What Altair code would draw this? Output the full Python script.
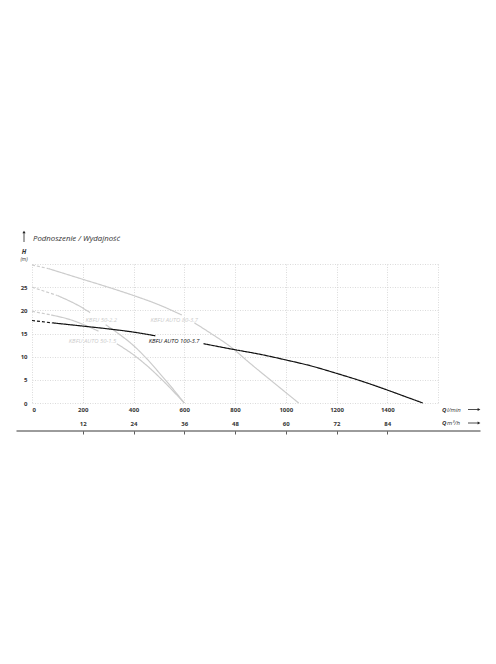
import altair as alt
import pandas as pd

# ---------------- data ----------------
series = ["KBFU AUTO 80-3.7", "KBFU 50-2.2", "KBFU AUTO 50-1.5", "KBFU AUTO 100-3.7"]

# KBFU AUTO 80-3.7  (segments: d = dashed start, a/b = solid parts around the label gap)
q_80 = [0, 65, 65, 200, 300, 400, 500, 590, 640, 700, 795, 850, 950, 1051]
h_80 = [29.8, 29.0, 29.0, 26.7, 25.0, 23.2, 21.2, 19.0, 17.3, 15.2, 11.6, 9.0, 4.5, 0.0]
s_80 = ["d", "d", "a", "a", "a", "a", "a", "a", "b", "b", "b", "b", "b", "b"]

# KBFU 50-2.2
q_22 = [0, 100, 100, 200, 229, 290, 340, 400, 450, 500, 550, 600]
h_22 = [25.0, 23.2, 23.2, 20.5, 19.5, 16.9, 15.0, 12.4, 9.7, 6.6, 3.4, 0.0]
s_22 = ["d", "d", "a", "a", "a", "b", "b", "b", "b", "b", "b", "b"]

# KBFU AUTO 50-1.5
q_15 = [0, 75, 75, 150, 200, 262, 334, 400, 450, 520, 600]
h_15 = [19.8, 19.0, 19.0, 18.0, 17.0, 15.5, 12.8, 10.4, 8.2, 4.6, 0.0]
s_15 = ["d", "d", "a", "a", "a", "a", "b", "b", "b", "b", "b"]

# KBFU AUTO 100-3.7
q_100 = [0, 80, 80, 200, 300, 400, 486, 676, 800, 900, 1000, 1100, 1200, 1300, 1400, 1480, 1540]
h_100 = [17.8, 17.3, 17.3, 16.6, 16.0, 15.3, 14.5, 12.8, 11.5, 10.5, 9.3, 8.0, 6.4, 4.7, 2.8, 1.2, 0.0]
s_100 = ["d", "d", "a", "a", "a", "a", "a", "b", "b", "b", "b", "b", "b", "b", "b", "b", "b"]

# curve labels (left edge position in data units)
label_text = ["KBFU 50-2.2", "KBFU AUTO 50-1.5", "KBFU AUTO 80-3.7", "KBFU AUTO 100-3.7"]
label_q = [211, 145, 467, 460]
label_h = [18.0, 13.3, 18.0, 13.3]
label_series = ["KBFU 50-2.2", "KBFU AUTO 50-1.5", "KBFU AUTO 80-3.7", "KBFU AUTO 100-3.7"]

x_ticks = [0, 200, 400, 600, 800, 1000, 1200, 1400, 1600]
y_ticks = [0, 5, 10, 15, 20, 25, 30]
m3_ticks = [12, 24, 36, 48, 60, 72, 84]

title_text = "Podnoszenie / Wydajność"

# ---------------- tables ----------------
rows = []
for name, qs, hs, ss in [
    (series[0], q_80, h_80, s_80),
    (series[1], q_22, h_22, s_22),
    (series[2], q_15, h_15, s_15),
    (series[3], q_100, h_100, s_100),
]:
    for i, (q, h, s) in enumerate(zip(qs, hs, ss)):
        rows.append({"series": name, "q": q, "h": h, "seg": name + s,
                     "style": "dash" if s == "d" else "solid", "order": i})
df = pd.DataFrame(rows)
labels_df = pd.DataFrame({"t": label_text, "q": label_q, "h": label_h, "series": label_series})
m3_df = pd.DataFrame({"q": [m * 1000 / 60 for m in m3_ticks]})

W, H = 406, 139
FONT = "Open Sans"
xscale = alt.Scale(domain=[0, 1600], nice=False, zero=False)
yscale = alt.Scale(domain=[0, 30], nice=False)
color_scale = alt.Scale(domain=series, range=["#cccccc", "#cccccc", "#cccccc", "#111111"])

x_axis = alt.Axis(values=x_ticks, format="d", title=None, domain=False, ticks=False,
                  labelExpr="datum.value > 1400 ? '' : datum.label",
                  labelPadding=6.5, labelBaseline="middle", labelFont=FONT, labelFontSize=6,
                  labelFontWeight="bold", labelColor="#333333", grid=True,
                  gridDash=[1, 1.5], gridColor="#cccccc", gridWidth=0.7)
y_axis = alt.Axis(values=y_ticks, title=None, domain=False, ticks=False,
                  labelExpr="datum.value >= 30 ? '' : datum.label",
                  labelPadding=5, labelFont=FONT, labelFontSize=6, labelFontWeight="bold",
                  labelColor="#333333", grid=True, gridDash=[1, 1.5], gridColor="#cccccc",
                  gridWidth=0.7)

curves = alt.Chart(df).mark_line(interpolate="monotone").encode(
    x=alt.X("q:Q", scale=xscale, axis=x_axis),
    y=alt.Y("h:Q", scale=yscale, axis=y_axis),
    color=alt.Color("series:N", scale=color_scale, legend=None),
    strokeDash=alt.StrokeDash("style:N", scale=alt.Scale(domain=["solid", "dash"], range=[[1, 0], [3, 2]]), legend=None),
    strokeWidth=alt.StrokeWidth("series:N", scale=alt.Scale(domain=series, range=[1.2, 1.2, 1.2, 1.4]), legend=None),
    detail="seg:N",
    order="order:Q",
)

curve_labels = alt.Chart(labels_df).mark_text(align="left", baseline="middle", font=FONT,
                                              fontSize=5.9, fontStyle="italic").encode(
    x=alt.X("q:Q", scale=xscale, axis=None),
    y=alt.Y("h:Q", scale=yscale, axis=y_axis),
    text="t:N",
    color=alt.Color("series:N", scale=alt.Scale(domain=series, range=["#b8b8b8", "#b8b8b8", "#b8b8b8", "#111111"]), legend=None),
)

m3_axis = alt.Chart(m3_df).mark_point(opacity=0).encode(
    x=alt.X("q:Q", scale=xscale, axis=alt.Axis(
        orient="bottom", offset=28, values=[m * 1000 / 60 for m in m3_ticks],
        labelExpr="round(datum.value * 0.06)", title=None, domain=False, grid=False,
        tickSize=3, tickColor="#333333", tickWidth=0.8, labelPadding=-11, labelBaseline="middle",
        labelFont=FONT, labelFontSize=6, labelFontWeight="bold", labelColor="#333333")),
    y=alt.value(0),
)

one = pd.DataFrame({"t": [""]})


def txt(s, x, y, **kw):
    return alt.Chart(pd.DataFrame({"t": [s]})).mark_text(**kw).encode(
        text="t:N", x=alt.value(x), y=alt.value(y))


def rule(x, x2, y, y2, w=0.8):
    return alt.Chart(one).mark_rule(color="#222222", strokeWidth=w).encode(
        x=alt.value(x), x2=alt.value(x2), y=alt.value(y), y2=alt.value(y2))


def tri(x, y, shape):
    return alt.Chart(one).mark_point(shape=shape, filled=True, color="#222222", size=10, opacity=1).encode(
        x=alt.value(x), y=alt.value(y))


decor = [
    txt(title_text, 1, -25, align="left", baseline="middle", font=FONT, fontSize=7.8,
        fontStyle="italic", color="#333333"),
    rule(-8, -8, -31, -22),
    tri(-8, -32, "triangle-up"),
    txt("H", -8, -12.5, align="center", baseline="middle", font=FONT, fontSize=6.5,
        fontStyle="italic", fontWeight="bold", color="#333333"),
    txt("(m)", -8, -5.5, align="center", baseline="middle", font=FONT, fontSize=5,
        fontStyle="italic", color="#333333"),
    txt("Q", W + 4, H + 6.5, align="left", baseline="middle", font=FONT, fontSize=6,
        fontWeight="bold", fontStyle="italic", color="#333333"),
    txt("l/min", W + 9, H + 6.5, align="left", baseline="middle", font=FONT, fontSize=6,
        fontStyle="italic", color="#333333"),
    txt("Q", W + 4, H + 20, align="left", baseline="middle", font=FONT, fontSize=6,
        fontWeight="bold", fontStyle="italic", color="#333333"),
    txt("m³/h", W + 9, H + 20, align="left", baseline="middle", font=FONT, fontSize=6,
        fontStyle="italic", color="#333333"),
    rule(W + 30, W + 40, H + 6.5, H + 6.5),
    tri(W + 41, H + 6.5, "triangle-right"),
    rule(W + 30, W + 40, H + 20, H + 20),
    tri(W + 41, H + 20, "triangle-right"),
    rule(-15.5, W + 42.5, H + 28, H + 28, w=0.9),
]

chart = alt.layer(curves, curve_labels, m3_axis, *decor).resolve_axis(x="independent").properties(
    width=W, height=H, padding={"top": 222, "left": 8, "right": 5, "bottom": 5}
).configure_view(stroke=None)

chart.save("out.html", embed_options={"renderer": "svg", "actions": False})
